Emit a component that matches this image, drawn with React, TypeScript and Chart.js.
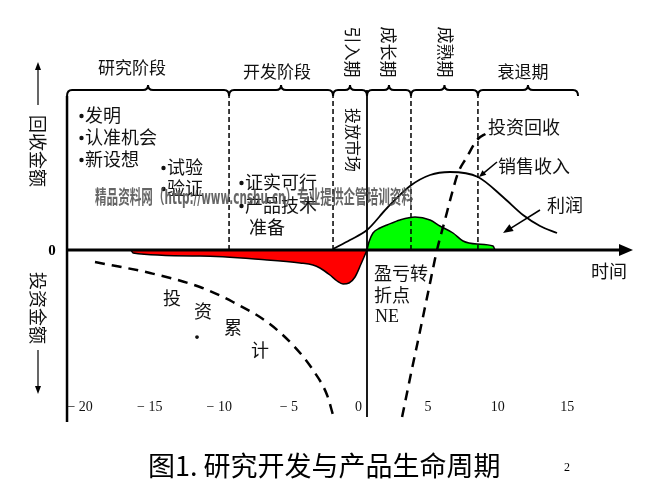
import React, { useEffect, useRef } from 'react';
import { Chart, registerables } from 'chart.js';

Chart.register(...registerables);

// ---- data (time in years, amount in relative units) ----
const timeTicks = [-20, -15, -10, -5, 0, 5, 10, 15];
const timeTickLabels = ['− 20', '− 15', '− 10', '− 5', '0', '5', '10', '15'];

const stageNames = ['研究阶段', '开发阶段', '引入期', '成长期', '成熟期', '衰退期'];
const stageBounds = [-20.94, -9.3, -1.83, 0.61, 3.77, 8.58, 15.77];
const stageDividers = [-9.3, -1.83, 3.77, 8.58];
const breakEvenX = 0.61;

// 亏损（研发投入期间的净现金流）
const lossX = [-16.34, -16.2, -11.39, -6.57, -4.2, -3.27, -2.77, -2.05, -1.54, -1.11, -0.68, -0.25, 0.18, 0.61];
const lossY = [0, -1.2, -2.4, -4, -5.2, -6, -7.2, -10, -12.4, -13.6, -13.2, -10.8, -5.6, 0];

// 利润
const profitX = [0.61, 0.75, 1.04, 1.54, 2.05, 2.98, 4.06, 5.14, 5.85, 6.79, 7.51, 8.51, 9.66, 9.81];
const profitY = [0, 3.2, 6.8, 8.8, 10, 12, 13.2, 12, 9.6, 6.8, 3.6, 2.4, 1.6, 0];

// 销售收入
const salesX = [-1.83, -0.61, 0.61, 2.05, 3.7, 5.14, 6.57, 8.58, 10.38, 11.82, 13.04, 14.26];
const salesY = [0.4, 4, 8, 16.8, 25.6, 30, 31.2, 29.2, 21.2, 14, 9.6, 6.8];

// 投资累计
const investX = [-18.93, -14.98, -11.39, -9.02, -6.57, -4.71, -3.27, -2.26, -1.83];
const investY = [-4.8, -9.2, -14.8, -20.8, -28.8, -38, -48, -58, -66];

// 投资回收
const recoverX = [3.13, 3.84, 4.42, 4.99, 5.64, 6.21, 6.72, 7.15, 7.79, 8.51, 9.23];
const recoverY = [-66.8, -47.6, -32.4, -17.2, 0, 12, 22.8, 30.8, 37.2, 44, 46.8];

// ---- layout ----
const X_MIN = -25.755;
const X_MAX = 22.162;
const Y_MIN = -100;
const Y_MAX = 100;
const AXIS_LEFT = -20.94;
const AXIS_RIGHT = 19.72;
const AXIS_TOP = 64;
const AXIS_BOTTOM = -68.8;
const DIVIDER_TOP = 62.8;
const BREAK_TOP = 64;
const BREAK_BOTTOM = -66.8;

const CJK = '"Noto Sans CJK SC", sans-serif';
const SERIF = '"Liberation Serif", "DejaVu Serif", serif';

const notes: [string, number, number][] = [
  ['•发明', 79, 115],
  ['•认准机会', 79, 137],
  ['•新设想', 79, 159],
  ['•试验', 161, 167],
  ['•验证', 161, 188],
  ['•证实可行', 239, 182],
  ['•产品技术', 239, 205],
  ['准备', 249, 227],
  ['投资回收', 488, 127],
  ['销售收入', 498, 166],
  ['利润', 547, 205],
  ['时间', 591, 271],
  ['盈亏转', 374, 273],
  ['折点', 374, 295],
];
const investChars: [string, number, number][] = [
  ['投', 172, 298],
  ['资', 203, 311],
  ['累', 233, 327],
  ['计', 260, 350],
  ['·', 197, 337],
];
const stageLabelPos: [number, number, boolean][] = [
  [132, 68, false],
  [277, 72, false],
  [352, 52, true],
  [388, 52, true],
  [445, 52, true],
  [523, 72, false],
];

const pts = (xs: number[], ys: number[]) => xs.map((x, i) => ({ x, y: ys[i] }));

function arrowHead(ctx: CanvasRenderingContext2D, x1: number, y1: number, x2: number, y2: number, len: number, half: number) {
  const a = Math.atan2(y2 - y1, x2 - x1);
  ctx.beginPath();
  ctx.moveTo(x2, y2);
  ctx.lineTo(x2 - len * Math.cos(a) + half * Math.sin(a), y2 - len * Math.sin(a) - half * Math.cos(a));
  ctx.lineTo(x2 - len * Math.cos(a) - half * Math.sin(a), y2 - len * Math.sin(a) + half * Math.cos(a));
  ctx.closePath();
  ctx.fill();
}

function arrow(ctx: CanvasRenderingContext2D, x1: number, y1: number, x2: number, y2: number, w: number, len: number, half: number) {
  ctx.lineWidth = w;
  ctx.beginPath();
  ctx.moveTo(x1, y1);
  const a = Math.atan2(y2 - y1, x2 - x1);
  ctx.lineTo(x2 - (len * 0.8) * Math.cos(a), y2 - (len * 0.8) * Math.sin(a));
  ctx.stroke();
  arrowHead(ctx, x1, y1, x2, y2, len, half);
}

function vtext(ctx: CanvasRenderingContext2D, s: string, x: number, y: number, size: number) {
  ctx.save();
  ctx.translate(x, y);
  ctx.rotate(Math.PI / 2);
  ctx.font = `${size}px ${CJK}`;
  ctx.textAlign = 'center';
  ctx.textBaseline = 'middle';
  ctx.fillText(s, 0, 0);
  ctx.restore();
}

function brace(ctx: CanvasRenderingContext2D, a: number, b: number, y: number) {
  const c = (a + b) / 2;
  const r = 5;
  ctx.beginPath();
  ctx.moveTo(a, y + 6);
  ctx.quadraticCurveTo(a, y, a + r, y);
  ctx.lineTo(c - r, y);
  ctx.quadraticCurveTo(c, y, c, y - 5);
  ctx.quadraticCurveTo(c, y, c + r, y);
  ctx.lineTo(b - r, y);
  ctx.quadraticCurveTo(b, y, b, y + 6);
  ctx.stroke();
}

const decorPlugin = {
  id: 'decor',
  afterDatasetsDraw(chart: any) {
    const ctx: CanvasRenderingContext2D = chart.ctx;
    const xs = chart.scales.x;
    const ys = chart.scales.y;
    const X = (v: number) => xs.getPixelForValue(v);
    const Y = (v: number) => ys.getPixelForValue(v);
    ctx.save();
    ctx.fillStyle = '#000';
    ctx.strokeStyle = '#000';
    ctx.lineCap = 'butt';

    // left axis
    ctx.lineWidth = 2.5;
    ctx.beginPath();
    ctx.moveTo(X(AXIS_LEFT), Y(AXIS_TOP) + 6);
    ctx.lineTo(X(AXIS_LEFT), Y(AXIS_BOTTOM));
    ctx.stroke();
    // zero (time) axis with arrow
    arrow(ctx, X(AXIS_LEFT), Y(0), X(AXIS_RIGHT), Y(0), 3, 14, 6);

    // braces
    ctx.lineWidth = 2;
    for (let i = 0; i < stageNames.length; i++) {
      brace(ctx, X(stageBounds[i]), X(stageBounds[i + 1]), Y(AXIS_TOP));
    }
    // stage labels
    ctx.fillStyle = '#111';
    stageNames.forEach((s, i) => {
      const [px, py, vert] = stageLabelPos[i];
      if (vert) vtext(ctx, s, px, py, 17);
      else {
        ctx.font = `17px ${CJK}`;
        ctx.textAlign = 'center';
        ctx.textBaseline = 'middle';
        ctx.fillText(s, px, py);
      }
    });
    vtext(ctx, '投放市场', 353, 140, 16);

    // side axis labels & arrows
    vtext(ctx, '回收金额', 38, 151, 18);
    vtext(ctx, '投资金额', 38, 308, 18);
    ctx.fillStyle = '#000';
    arrow(ctx, 38, 105, 38, 62, 1.2, 8, 3);
    arrow(ctx, 38, 350, 38, 394, 1.2, 8, 3);
    ctx.font = `bold 15px ${SERIF}`;
    ctx.textAlign = 'center';
    ctx.textBaseline = 'middle';
    ctx.fillText('0', 52, 251);

    // notes
    ctx.fillStyle = '#111';
    ctx.textAlign = 'left';
    notes.forEach(([s, px, py]) => {
      let x = px;
      let t = s;
      if (t.startsWith('•')) {
        ctx.beginPath();
        ctx.arc(x + 2.5, py + 1, 2.2, 0, Math.PI * 2);
        ctx.fill();
        x += 6;
        t = t.slice(1);
      }
      ctx.font = `18px ${CJK}`;
      ctx.fillText(t, x, py);
    });
    ctx.font = `18px ${SERIF}`;
    ctx.fillText('NE', 375, 317);
    ctx.textAlign = 'center';
    ctx.font = `18px ${CJK}`;
    investChars.forEach(([s, px, py]) => ctx.fillText(s, px, py));

    // pointers
    ctx.fillStyle = '#000';
    arrow(ctx, 497, 162, 479, 177, 1.5, 7, 3);
    arrow(ctx, 540, 210, 503, 233, 1.5, 10, 4);

    // time tick labels
    ctx.font = `14px ${SERIF}`;
    ctx.textAlign = 'center';
    ctx.fillStyle = '#111';
    timeTicks.forEach((v, i) => ctx.fillText(timeTickLabels[i], X(v), 407));

    // watermark
    ctx.save();
    ctx.font = `bold 19px "DejaVu Sans Condensed", ${CJK}`;
    const wm = '精品资料网（http://www.cnshu.cn）专业提供企管培训资料';
    const w = ctx.measureText(wm).width;
    ctx.translate(95, 199);
    ctx.scale(318 / w, 1);
    ctx.textAlign = 'left';
    ctx.fillStyle = 'rgba(80,80,80,0.88)';
    ctx.fillText(wm, 0, 0);
    ctx.restore();

    // title & page number
    ctx.fillStyle = '#000';
    ctx.textAlign = 'left';
    ctx.font = `27px ${CJK}`;
    ctx.fillText('图1. 研究开发与产品生命周期', 148, 466);
    ctx.font = `12px ${SERIF}`;
    ctx.fillText('2', 564, 468);
    ctx.restore();
  },
};

export default function App() {
  const ref = useRef<HTMLCanvasElement | null>(null);
  useEffect(() => {
    if (!ref.current) return;
    const line = { showLine: true, pointRadius: 0, pointHoverRadius: 0, borderColor: '#000', fill: false };
    const dividerSets = stageDividers.map((x) => ({
      ...line,
      label: 'divider',
      data: [{ x, y: 0 }, { x, y: DIVIDER_TOP }],
      borderWidth: 1.5,
      borderDash: [5, 3],
    }));
    const chart = new Chart(ref.current, {
      type: 'scatter',
      data: {
        datasets: [
          {
            ...line,
            label: '投资回收',
            data: pts(recoverX, recoverY),
            borderWidth: 2.5,
            borderDash: [10, 7],
            cubicInterpolationMode: 'monotone',
          },
          {
            ...line,
            label: '投资累计',
            data: pts(investX, investY),
            borderWidth: 2.5,
            borderDash: [10, 7],
            cubicInterpolationMode: 'monotone',
          },
          {
            ...line,
            label: '销售收入',
            data: pts(salesX, salesY),
            borderWidth: 1.8,
            cubicInterpolationMode: 'monotone',
          },
          {
            ...line,
            label: '盈亏转折点',
            data: [{ x: breakEvenX, y: BREAK_BOTTOM }, { x: breakEvenX, y: BREAK_TOP }],
            borderWidth: 1.8,
          },
          ...dividerSets,
          {
            ...line,
            label: '利润',
            data: pts(profitX, profitY),
            borderWidth: 1.5,
            backgroundColor: '#00ff00',
            fill: 'origin',
            cubicInterpolationMode: 'monotone',
          },
          {
            ...line,
            label: '亏损',
            data: pts(lossX, lossY),
            borderWidth: 1.5,
            backgroundColor: '#ff0000',
            fill: 'origin',
            cubicInterpolationMode: 'monotone',
          },
        ] as any,
      },
      options: {
        animation: false,
        responsive: false,
        events: [],
        layout: { padding: 0 },
        plugins: { legend: { display: false }, tooltip: { enabled: false } },
        scales: {
          x: { type: 'linear', min: X_MIN, max: X_MAX, display: false },
          y: { type: 'linear', min: Y_MIN, max: Y_MAX, display: false },
        },
      },
      plugins: [decorPlugin],
    });
    return () => chart.destroy();
  }, []);
  return (
    <div style={{ position: 'fixed', left: 0, top: 0, width: 667, height: 500, background: '#fff' }}>
      <canvas ref={ref} width={667} height={500} style={{ display: 'block' }} />
    </div>
  );
}
